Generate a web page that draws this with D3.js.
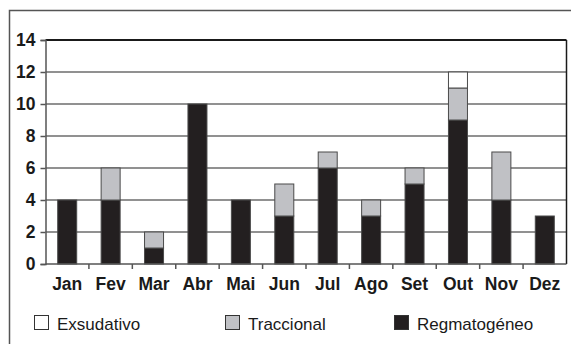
<!DOCTYPE html>
<html>
<head>
<meta charset="utf-8">
<script src="https://cdn.jsdelivr.net/npm/d3@7/dist/d3.min.js"></script>
<style>
  html, body { margin: 0; padding: 0; background: #fff; }
  svg { display: block; }
</style>
</head>
<body>
<svg id="chart" width="571" height="344"></svg>
<script>
// Monthly case counts by type of retinal detachment
const months = ["Jan", "Fev", "Mar", "Abr", "Mai", "Jun", "Jul", "Ago", "Set", "Out", "Nov", "Dez"];
const regmatogeneo = [4, 4, 1, 10, 4, 3, 6, 3, 5, 9, 4, 3];
const traccional   = [0, 2, 1, 0, 0, 2, 1, 1, 1, 2, 3, 0];
const exsudativo   = [0, 0, 0, 0, 0, 0, 0, 0, 0, 1, 0, 0];
const yTicks = [0, 2, 4, 6, 8, 10, 12, 14];

const seriesKeys = ["regmatogeneo", "traccional", "exsudativo"];
const seriesLabels = { exsudativo: "Exsudativo", traccional: "Traccional", regmatogeneo: "Regmatogéneo" };
const fills = { regmatogeneo: "#231f20", traccional: "#c0c1c5", exsudativo: "#ffffff" };
const legendOrder = ["exsudativo", "traccional", "regmatogeneo"];

const rows = months.map((m, i) => ({
  month: m,
  regmatogeneo: regmatogeneo[i],
  traccional: traccional[i],
  exsudativo: exsudativo[i]
}));

const svg = d3.select("#chart");
const plot = { left: 45.5, right: 566.5, top: 40, bottom: 264 };
const font = "'Liberation Sans', Arial, Helvetica, sans-serif";

// Outer frame (extends past the bottom/right of the view)
svg.append("rect")
  .attr("x", 9.5).attr("y", 10.5)
  .attr("width", 600).attr("height", 400)
  .attr("fill", "none").attr("stroke", "#555").attr("stroke-width", 1.5);

const x = d3.scaleBand().domain(months).range([plot.left, plot.right]).paddingInner(0.56).paddingOuter(0.28);
const y = d3.scaleLinear().domain([0, 14]).range([plot.bottom, plot.top]);

// Horizontal gridlines
svg.append("g").selectAll("line").data(yTicks.filter(t => t > 0 && t < 14)).join("line")
  .attr("x1", plot.left).attr("x2", plot.right)
  .attr("y1", d => y(d)).attr("y2", d => y(d))
  .attr("stroke", "#6d6d6d").attr("stroke-width", 1.5);

// Stacked bars
const stack = d3.stack().keys(seriesKeys)(rows);
const bw = 19;
svg.append("g").selectAll("g").data(stack).join("g")
  .attr("fill", d => fills[d.key])
  .selectAll("rect").data(d => d.filter(s => s[1] > s[0])).join("rect")
    .attr("x", d => x(d.data.month) + x.bandwidth() / 2 - bw / 2)
    .attr("y", d => y(d[1]))
    .attr("width", bw)
    .attr("height", d => y(d[0]) - y(d[1]))
    .attr("stroke", "#4a4a4a").attr("stroke-width", 1);

// Plot border: top and right in dark, baseline and left axis in gray
svg.append("line").attr("x1", plot.left).attr("x2", plot.right).attr("y1", y(14)).attr("y2", y(14))
  .attr("stroke", "#1a1a1a").attr("stroke-width", 2);
svg.append("line").attr("x1", plot.right).attr("x2", plot.right).attr("y1", y(14)).attr("y2", plot.bottom)
  .attr("stroke", "#1a1a1a").attr("stroke-width", 1.5);

// Y axis
const yAxis = d3.axisLeft(y).tickValues(yTicks).tickSize(5).tickPadding(5).tickFormat(d3.format("d"));
const gy = svg.append("g").attr("transform", `translate(${plot.left},0)`).call(yAxis);
gy.select(".domain").attr("stroke", "#555").attr("stroke-width", 1.5);
gy.selectAll(".tick line").attr("stroke", "#555").attr("stroke-width", 1.5);
gy.selectAll(".tick text")
  .attr("font-family", font)
  .attr("font-size", 17.5).attr("font-weight", "bold").attr("fill", "#1a1a1a");

// X axis with ticks at band boundaries
const gx = svg.append("g").attr("transform", `translate(0,${plot.bottom})`);
gx.append("line").attr("x1", plot.left).attr("x2", plot.right).attr("stroke", "#555").attr("stroke-width", 1.5);
const step = x.step();
gx.selectAll("line.tk").data(months.slice(1)).join("line").attr("class", "tk")
  .attr("x1", d => x(d) + x.bandwidth() / 2 - step / 2)
  .attr("x2", d => x(d) + x.bandwidth() / 2 - step / 2)
  .attr("y1", 0).attr("y2", 5)
  .attr("stroke", "#555").attr("stroke-width", 1.5);
gx.selectAll("text").data(months).join("text")
  .attr("x", d => x(d) + x.bandwidth() / 2)
  .attr("y", 25.5)
  .attr("text-anchor", "middle")
  .attr("font-family", font)
  .attr("font-size", 17.5).attr("font-weight", "bold").attr("fill", "#1a1a1a")
  .text(d => d);

// Legend
const legendX = { exsudativo: 34, traccional: 225, regmatogeneo: 394 };
const lg = svg.append("g").selectAll("g").data(legendOrder).join("g")
  .attr("transform", d => `translate(${legendX[d]},315)`);
lg.append("rect").attr("x", 0.5).attr("y", 0.5).attr("width", 14).attr("height", 14)
  .attr("fill", d => fills[d]).attr("stroke", "#333").attr("stroke-width", 1);
lg.append("text").attr("x", 23).attr("y", 15)
  .attr("font-family", font)
  .attr("font-size", 17).attr("fill", "#1a1a1a")
  .text(d => seriesLabels[d]);
</script>
</body>
</html>
